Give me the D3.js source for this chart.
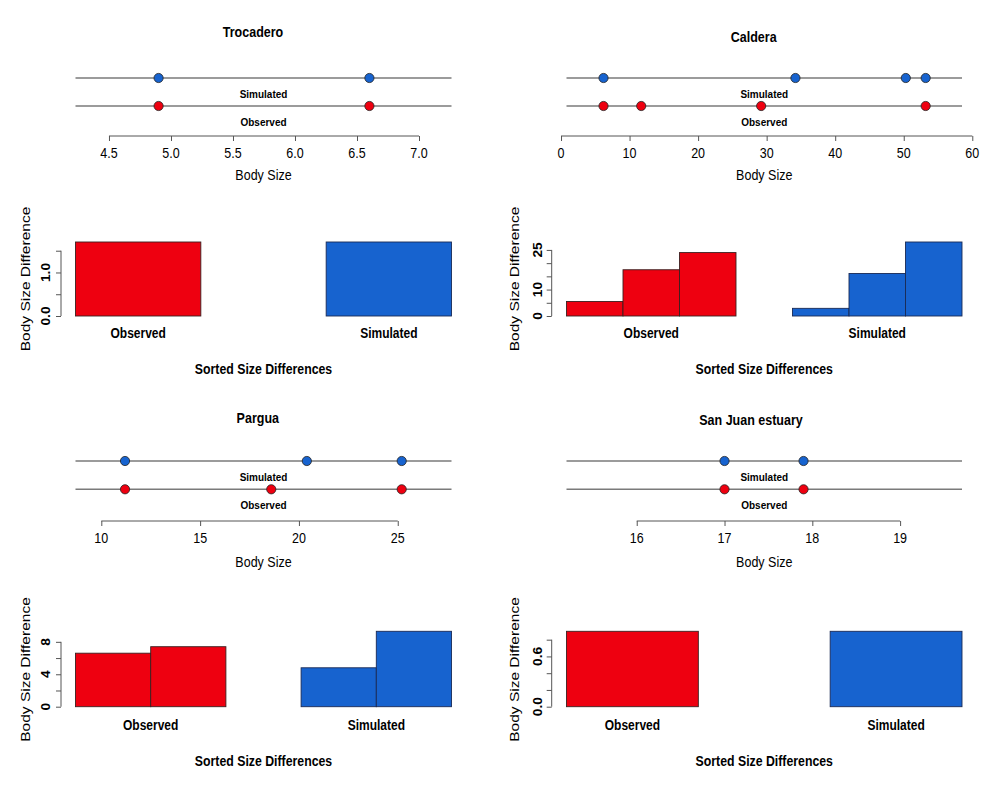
<!DOCTYPE html>
<html>
<head>
<meta charset="utf-8">
<script src="https://cdn.jsdelivr.net/npm/d3@7/dist/d3.min.js"></script>
<style>
  html, body { margin: 0; padding: 0; background: #fff; }
  svg { display: block; }
  text { font-family: "Liberation Sans", Arial, sans-serif; fill: #000; }
</style>
</head>
<body>
<svg id="chart" width="998" height="790"></svg>
<script>
// ---------------- DATA ----------------
const panelNames = ["Trocadero", "Caldera", "Pargua", "San Juan estuary"];
const seriesNames = ["Observed", "Simulated"];

// Body sizes on the dot plots
const trocaderoSimulated = [4.9, 6.6];
const trocaderoObserved  = [4.9, 6.6];
const calderaSimulated   = [6.2, 34.2, 50.3, 53.2];
const calderaObserved    = [6.2, 11.7, 29.2, 53.2];
const parguaSimulated    = [11.2, 20.4, 25.2];
const parguaObserved     = [11.2, 18.6, 25.2];
const sanJuanSimulated   = [17.0, 17.9];
const sanJuanObserved    = [17.0, 17.9];

// Body-size axis ticks
const trocaderoSizeTicks = [4.5, 5.0, 5.5, 6.0, 6.5, 7.0];
const calderaSizeTicks   = [0, 10, 20, 30, 40, 50, 60];
const parguaSizeTicks    = [10, 15, 20, 25];
const sanJuanSizeTicks   = [16, 17, 18, 19];

// Body-size axis visible ranges
const trocaderoSizeRange = [4.23, 7.262];
const calderaSizeRange   = [0.8, 58.5];
const parguaSizeRange    = [8.694, 27.72];
const sanJuanSizeRange   = [15.2, 19.705];

// Sorted size differences (bar plots)
const trocaderoObservedDiff = [1.7];
const trocaderoSimulatedDiff = [1.7];
const calderaObservedDiff   = [5.5, 17.5, 24.0];
const calderaSimulatedDiff  = [2.9, 16.1, 28.0];
const parguaObservedDiff    = [6.6, 7.4];
const parguaSimulatedDiff   = [4.8, 9.3];
const sanJuanObservedDiff   = [0.9];
const sanJuanSimulatedDiff  = [0.9];

// Difference axis ticks and which are labelled
const trocaderoDiffTicks = [0, 0.5, 1.0, 1.5];
const trocaderoDiffLabels = ["0.0", "", "1.0", ""];
const calderaDiffTicks = [0, 5, 10, 15, 20, 25];
const calderaDiffLabels = ["0", "", "10", "", "", "25"];
const parguaDiffTicks = [0, 2, 4, 6, 8];
const parguaDiffLabels = ["0", "", "4", "", "8"];
const sanJuanDiffTicks = [0, 0.2, 0.4, 0.6, 0.8];
const sanJuanDiffLabels = ["0.0", "", "", "0.6", ""];

// ---------------- LAYOUT / STYLE ----------------
const RED = "#EE0010", BLUE = "#1763CF";
const STRETCH = 1.15;
const cols = [
  { plotL: 75.5, plotR: 451.5, yAxisX: 61, tickLabX: 50, yTitleX: 29.5 },
  { plotL: 566.5, plotR: 962, yAxisX: 551.7, tickLabX: 541.7, yTitleX: 518.5 }
];
const rows = [
  { simY: 78, obsY: 106, axisY: 136, tickLabY: 158, xTitleY: 180,
    barBase: 316, barTop: 242, groupLabY: 338.3, sortedY: 374, yTitleCY: 279 },
  { simY: 461, obsY: 489.3, axisY: 521, tickLabY: 543.3, xTitleY: 566.7,
    barBase: 706.7, barTop: 631.3, groupLabY: 729.5, sortedY: 766, yTitleCY: 669.5 }
];
const titlePos = [[253, 36.7], [753.7, 41.7], [257.8, 423], [751, 425]];

const panels = [
  { sim: trocaderoSimulated, obs: trocaderoObserved, sizeTicks: trocaderoSizeTicks, sizeRange: trocaderoSizeRange,
    fmt: d3.format(".1f"), obsDiff: trocaderoObservedDiff, simDiff: trocaderoSimulatedDiff,
    diffTicks: trocaderoDiffTicks, diffLabels: trocaderoDiffLabels },
  { sim: calderaSimulated, obs: calderaObserved, sizeTicks: calderaSizeTicks, sizeRange: calderaSizeRange,
    fmt: d3.format("d"), obsDiff: calderaObservedDiff, simDiff: calderaSimulatedDiff,
    diffTicks: calderaDiffTicks, diffLabels: calderaDiffLabels },
  { sim: parguaSimulated, obs: parguaObserved, sizeTicks: parguaSizeTicks, sizeRange: parguaSizeRange,
    fmt: d3.format("d"), obsDiff: parguaObservedDiff, simDiff: parguaSimulatedDiff,
    diffTicks: parguaDiffTicks, diffLabels: parguaDiffLabels },
  { sim: sanJuanSimulated, obs: sanJuanObserved, sizeTicks: sanJuanSizeTicks, sizeRange: sanJuanSizeRange,
    fmt: d3.format("d"), obsDiff: sanJuanObservedDiff, simDiff: sanJuanSimulatedDiff,
    diffTicks: sanJuanDiffTicks, diffLabels: sanJuanDiffLabels }
];

const svg = d3.select("#chart");

function label(g, x, y, txt, size, bold, rotate) {
  return g.append("text")
    .attr("transform", `translate(${x},${y}) scale(1,${STRETCH})` + (rotate ? " rotate(-90)" : ""))
    .attr("text-anchor", "middle")
    .style("font-size", size + "px")
    .style("font-weight", bold ? "bold" : "normal")
    .text(txt);
}

panels.forEach((p, i) => {
  const c = cols[i % 2], r = rows[Math.floor(i / 2)];
  const g = svg.append("g");
  const midX = (c.plotL + c.plotR) / 2;

  // ---- dot plot ----
  const x = d3.scaleLinear().domain(p.sizeRange).range([c.plotL, c.plotR]);
  label(g, titlePos[i][0], titlePos[i][1], panelNames[i], 12.5, true);

  [[p.sim, r.simY, BLUE, "Simulated"], [p.obs, r.obsY, RED, "Observed"]].forEach(([vals, yy, col, nm]) => {
    g.append("line").attr("x1", c.plotL).attr("x2", c.plotR).attr("y1", yy).attr("y2", yy)
      .attr("stroke", "#7a7a7a").attr("stroke-width", 1.6);
    g.selectAll(null).data(vals).enter().append("circle")
      .attr("cx", d => x(d)).attr("cy", yy).attr("r", 4.6)
      .attr("fill", col).attr("stroke", "#222").attr("stroke-width", 0.8);
    label(g, midX, yy + 19.5, nm, 10, true);
  });

  const ax = g.append("g").attr("transform", `translate(0,${r.axisY})`)
    .call(d3.axisBottom(x).tickValues(p.sizeTicks).tickSize(5).tickSizeOuter(0).tickFormat(""));
  ax.select(".domain").attr("stroke", "#555").attr("d",
    `M${x(p.sizeTicks[0])},0H${x(p.sizeTicks[p.sizeTicks.length - 1])}`);
  ax.selectAll(".tick line").attr("stroke", "#555");
  p.sizeTicks.forEach(t => label(g, x(t), r.tickLabY, p.fmt(t), 12.5, false));
  label(g, midX, r.xTitleY, "Body Size", 12.5, false);

  // ---- bar plot ----
  const n = p.obsDiff.length;
  const bx = d3.scaleLinear().domain([0, 2 * n + 1]).range([c.plotL, c.plotR]);
  const maxV = d3.max(p.obsDiff.concat(p.simDiff));
  const by = d3.scaleLinear().domain([0, maxV]).range([r.barBase, r.barTop]);

  [[p.obsDiff, 0, RED, "#3a2020"], [p.simDiff, 1, BLUE, "#1a2a55"]].forEach(([vals, gi, col, edge]) => {
    g.selectAll(null).data(vals).enter().append("rect")
      .attr("x", (d, j) => bx(gi * (n + 1) + j))
      .attr("width", bx(1) - bx(0))
      .attr("y", d => by(d))
      .attr("height", d => by(0) - by(d))
      .attr("fill", col).attr("stroke", edge).attr("stroke-width", 0.9);
    label(g, bx(gi * (n + 1) + n / 2), r.groupLabY, seriesNames[gi], 12, true);
  });

  const yax = g.append("g").attr("transform", `translate(${c.yAxisX},0)`)
    .call(d3.axisLeft(by).tickValues(p.diffTicks).tickSize(5).tickSizeOuter(0).tickFormat(""));
  yax.select(".domain").attr("stroke", "#555").attr("d",
    `M0,${by(p.diffTicks[0])}V${by(p.diffTicks[p.diffTicks.length - 1])}`);
  yax.selectAll(".tick line").attr("stroke", "#555");
  p.diffTicks.forEach((t, k) => {
    if (p.diffLabels[k]) label(g, c.tickLabX, by(t), p.diffLabels[k], 12, true, true);
  });
  label(g, c.yTitleX, r.yTitleCY, "Body Size Difference", 13.5, false, true);
  label(g, midX, r.sortedY, "Sorted Size Differences", 12.3, true);
});
</script>
</body>
</html>
